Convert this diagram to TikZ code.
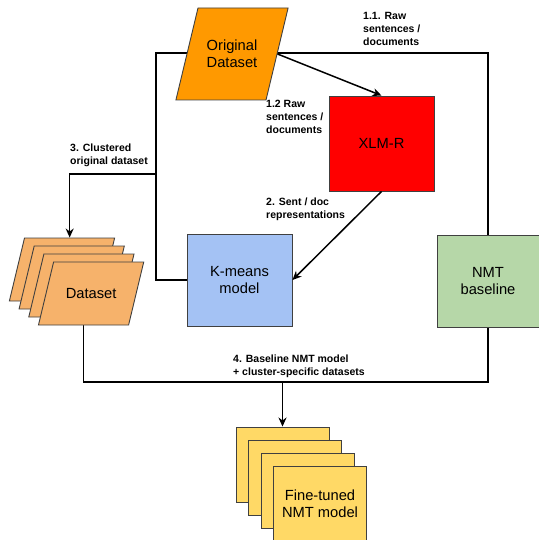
\documentclass[tikz,border=0pt]{standalone}
\usepackage{fontspec}
\setmainfont{Liberation Sans}
\usepackage{tikz}
\usetikzlibrary{positioning,shapes.geometric,arrows.meta,backgrounds}

\definecolor{origcol}{HTML}{FF9900}
\definecolor{xlmcol}{HTML}{FF0000}
\definecolor{kmcol}{HTML}{A4C2F4}
\definecolor{nmtcol}{HTML}{B6D7A8}
\definecolor{dscol}{HTML}{F6B26B}
\definecolor{ftcol}{HTML}{FFD966}
\definecolor{edgecol}{HTML}{404040}

\tikzset{
  block/.style={draw=edgecol, line width=0.9pt, inner sep=0pt, align=center,
    font=\fontsize{14.7}{17.5}\selectfont},
  data/.style={block, trapezium, trapezium left angle=76.5, trapezium right angle=103.5},
  origdata/.style={data, fill=origcol, text width=68, text height=42.5, text depth=49.5},
  cluster/.style={data, fill=dscol, text width=75, text height=36, text depth=27},
  lbl/.style={anchor=west, align=left, inner sep=0pt,
    font=\bfseries\fontsize{10.5}{13}\selectfont},
  flow/.style={line width=1.5pt},
  arr/.style={flow, -{Stealth[length=9pt,width=8pt]}}
}

\begin{document}
\begin{tikzpicture}[x=1pt,y=-1pt]
    \useasboundingbox (0,0) rectangle (538,540);

    % Define nodes
    \node[origdata] (orig) at (232,54) {Original\\Dataset};
    \node[block, fill=xlmcol, minimum width=105, minimum height=95] (xlmr) at (381.5,143.5) {XLM-R};
    \node[block, fill=kmcol, minimum width=105, minimum height=92] (kmeans) at (239.5,280) {K-means\\model};
    \node[block, fill=nmtcol, minimum width=102, minimum height=92] (nmt) at (488,281) {NMT\\baseline};

    % clustered datasets
    \node[cluster] (ds1) at (62,269.5) {};
    \node[cluster] (ds2) at ([shift={(9.7,8)}]ds1) {};
    \node[cluster] (ds3) at ([shift={(9.7,8)}]ds2) {};
    \node[cluster] (ds4) at ([shift={(9.7,8)}]ds3) {Dataset};

    % fine-tuned models
    \node[block, fill=ftcol, minimum width=93, minimum height=75] (ft1) at (282.5,464.5) {};
    \node[block, fill=ftcol, minimum width=93, minimum height=75] (ft2) at ([shift={(12.5,13)}]ft1) {};
    \node[block, fill=ftcol, minimum width=93, minimum height=75] (ft3) at ([shift={(12.5,13)}]ft2) {};
    \node[block, fill=ftcol, minimum width=93, minimum height=75] (ft4) at ([shift={(12.5,13)}]ft3) {Fine-tuned\\NMT model};

    % helper points
    \coordinate (tl) at (156,53);
    \coordinate (tr) at (nmt.north |- tl);
    \coordinate (split) at (156,174);
    \coordinate (bl) at (ds4.bottom side |- 0,382);
    \coordinate (fork) at (ft1.north |- bl);

    % Connect nodes
    \begin{scope}[on background layer]
        \draw[flow] (kmeans.west) -| (tl) -- (tr) -- (nmt.north);
        \draw[arr] (split) -| (ds1.top side);
        \draw[flow] (ds4.bottom side) -- (bl) -| (nmt.south);
    \end{scope}
    \draw[arr] (orig.east) -- (xlmr.north);
    \draw[arr] (xlmr.south) -- (kmeans.east);
    \draw[arr] (fork) -- (ft1.north);

    % add labels
    \node[lbl] (l11) at (363,29) {1.1. Raw\\sentences /\\documents};
    \node[lbl] (l12) at (266,117) {1.2 Raw\\sentences /\\documents};
    \node[lbl] (l2) at (266,209) {2. Sent / doc\\representations};
    \node[lbl] (l3) at (70,155) {3. Clustered\\original dataset};
    \node[lbl] (l4) at (233,366) {4. Baseline NMT model\\+ cluster-specific datasets};
\end{tikzpicture}
\end{document}
